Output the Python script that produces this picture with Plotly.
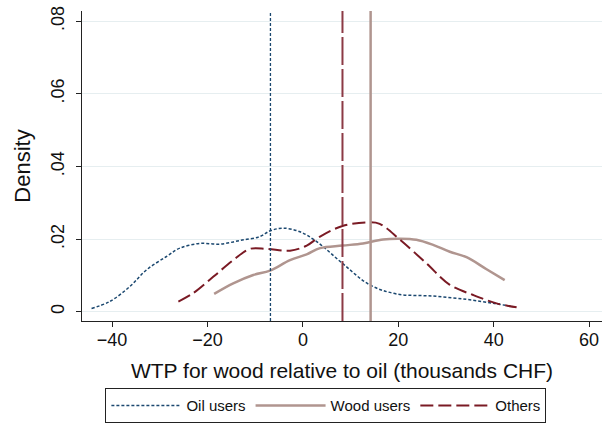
import plotly.graph_objects as go

# Kernel density estimates
oil_x = [-44.3, -40.5, -36.3, -32.8, -28.6, -25.8, -21.6, -17.4, -13.2, -9.0, -6.8, -4.1, -0.6,
         2.9, 8.3, 14.0, 19.6, 27.3, 34.3, 39.9, 44.1]
oil_y = [0.0009, 0.0028, 0.0069, 0.0115, 0.0152, 0.0175, 0.0188, 0.0186, 0.0196, 0.0207, 0.0223,
         0.0230, 0.0220, 0.0193, 0.0133, 0.0074, 0.0049, 0.0043, 0.0034, 0.0023, 0.0014]

wood_x = [-18.6, -14.6, -10.4, -6.9, -2.7, 0.8, 3.6, 8.3, 12.6, 16.8, 20.3, 23.8, 27.3,
          30.8, 34.3, 38.5, 42.3]
wood_y = [0.0049, 0.0078, 0.0101, 0.0113, 0.0142, 0.0158, 0.0175, 0.0182, 0.0188, 0.0199,
          0.0201, 0.0198, 0.0184, 0.0165, 0.0150, 0.0117, 0.0087]

oth_x = [-26.1, -23.0, -18.8, -14.6, -11.1, -7.6, -2.7, 0.8, 3.6, 8.3, 14.0, 16.1, 20.3,
         25.9, 30.8, 35.7, 40.6, 44.8]
oth_y = [0.0028, 0.0051, 0.0096, 0.0142, 0.0173, 0.0173, 0.0168, 0.0182, 0.0207, 0.0236,
         0.0246, 0.0242, 0.0199, 0.0133, 0.0074, 0.0046, 0.0023, 0.0012]

# Group means (vertical lines)
mean_oil = -6.8
mean_wood = 14.2
mean_oth = 8.3

series_names = ["Oil users", "Wood users", "Others"]
x_ticks = [-40, -20, 0, 20, 40, 60]
y_ticks = [0, 0.02, 0.04, 0.06, 0.08]
y_ticklabels = ["0", ".02", ".04", ".06", ".08"]

c_oil = "#1a476f"
c_wood = "#b0958f"
c_oth = "#7a1a24"

fig = go.Figure()
fig.add_trace(go.Scatter(x=oil_x, y=oil_y, mode="lines", name=series_names[0],
                         line=dict(color=c_oil, width=1.5, dash="3px,2px", shape="spline")))
fig.add_trace(go.Scatter(x=wood_x, y=wood_y, mode="lines", name=series_names[1],
                         line=dict(color=c_wood, width=2.5, shape="spline")))
fig.add_trace(go.Scatter(x=oth_x, y=oth_y, mode="lines", name=series_names[2],
                         line=dict(color=c_oth, width=2, dash="13px,5px", shape="spline")))

fig.add_vline(x=mean_oil, line=dict(color=c_oil, width=1.3, dash="3px,2px"))
fig.add_vline(x=mean_oth, line=dict(color="#8c3a45", width=2, dash="28px,4px"))
fig.add_vline(x=mean_wood, line=dict(color=c_wood, width=2.5))

fig.update_layout(
    width=614, height=425,
    margin=dict(l=82, r=12, t=11, b=104, autoexpand=False),
    paper_bgcolor="white", plot_bgcolor="white",
    font=dict(family="Liberation Sans, Arial, sans-serif", color="#111111"),
    showlegend=True,
    legend=dict(orientation="h", x=0.469, xanchor="center", y=-0.33, yanchor="bottom",
                bordercolor="#222222", borderwidth=1, font=dict(size=15),
                itemwidth=70, traceorder="normal"),
    xaxis=dict(range=[-46.3, 62.7], tickvals=x_ticks, showgrid=False, zeroline=False,
               showline=True, linecolor="#222222", linewidth=1, ticks="outside",
               ticklen=5, tickcolor="#222222", tickfont=dict(size=18), automargin=False,
               ticklabelstandoff=-3, ticklabeloverflow="allow",
               title=dict(text="WTP for wood relative to oil (thousands CHF)",
                          font=dict(size=21), standoff=14)),
    yaxis=dict(range=[-0.00256, 0.0828], tickvals=y_ticks, ticktext=y_ticklabels,
               tickangle=-90, showgrid=True, gridcolor="#e6eef0", gridwidth=1,
               zeroline=False, showline=True, linecolor="#222222", linewidth=1,
               ticks="outside", ticklen=5, tickcolor="#222222", tickfont=dict(size=18),
               ticklabelstandoff=5, automargin=False, ticklabeloverflow="allow",
               title=dict(text="Density", font=dict(size=22), standoff=11)),
)

# remove the browser's default 8px body margin so the figure fills the window
fig.write_html("out.html", config={"displayModeBar": False},
               post_script="document.body.style.margin='0';")
